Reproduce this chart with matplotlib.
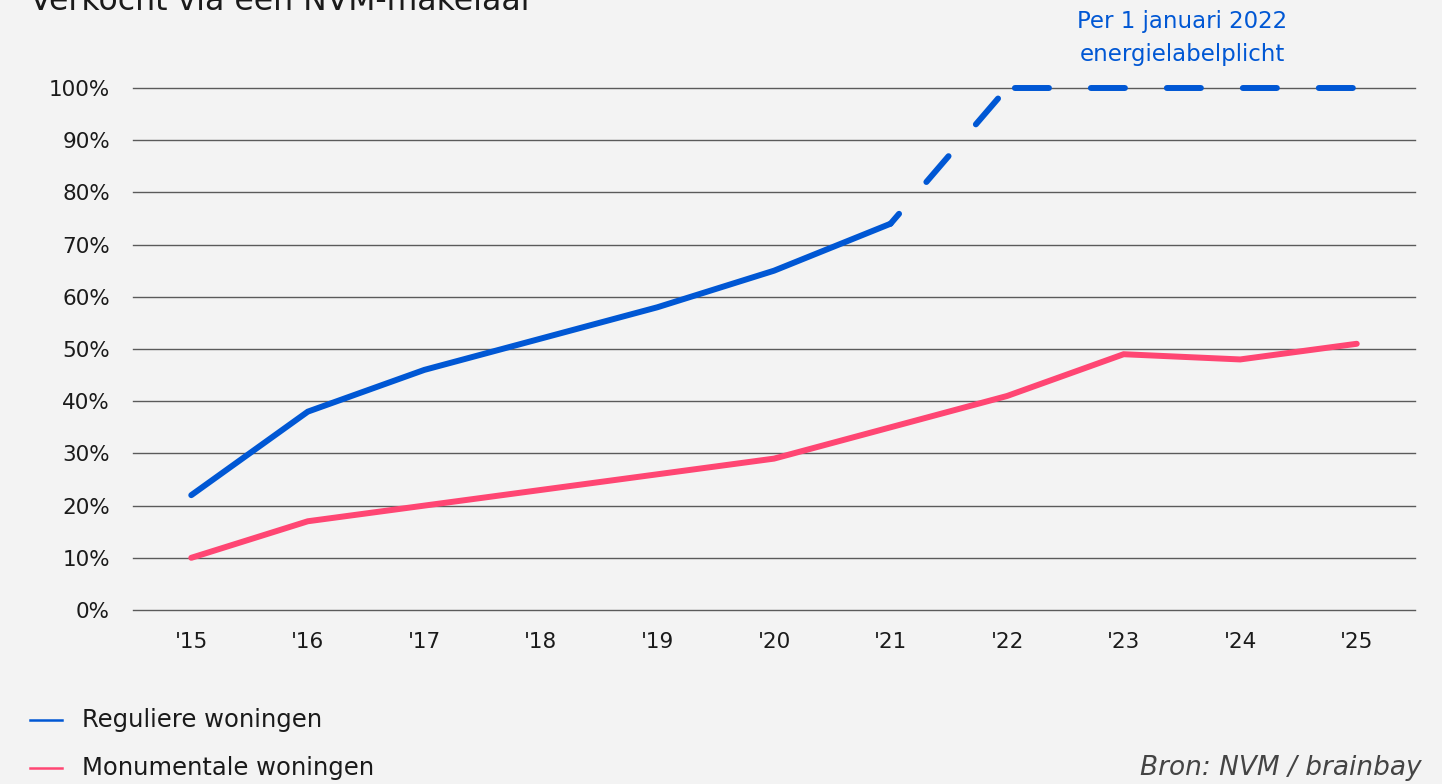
import matplotlib
matplotlib.use("Agg")
import matplotlib.pyplot as plt
from matplotlib.lines import Line2D

plt.rcParams['font.family'] = ['DejaVu Sans']
plt.rcParams['lines.scale_dashes'] = False

years = ["'15", "'16", "'17", "'18", "'19", "'20", "'21", "'22", "'23", "'24", "'25"]
reguliere = [22, 38, 46, 52, 58, 65, 74]
reguliere_proj_years = ["'21", "'22", "'23", "'24", "'25"]
reguliere_proj = [74, 100, 100, 100, 100]
monumentale = [10, 17, 20, 23, 26, 29, 35, 41, 49, 48, 51]
yticks = [0, 10, 20, 30, 40, 50, 60, 70, 80, 90, 100]

BLUE = '#0057d4'
PINK = '#ff4673'
BG = '#f3f3f3'
TXT = '#1a1a1a'

W, H = 1442, 784
fig = plt.figure(figsize=(W / 100, H / 100), dpi=100, facecolor=BG)
ax = fig.add_axes([133 / W, (H - 610) / H, (1415 - 133) / W, (610 - 88) / H])
ax.set_facecolor(BG)
ax.patch.set_visible(False)

xi = {y: i for i, y in enumerate(years)}

for v in yticks:
    ax.axhline(v, color='#5a5a5a', lw=1.0, clip_on=False, zorder=1)

ax.plot([xi[y] for y in years], monumentale, color=PINK, lw=4.3,
        solid_capstyle='round', solid_joinstyle='miter', clip_on=False, zorder=3)
ax.plot([xi[y] for y in years[:len(reguliere)]], reguliere, color=BLUE, lw=4.3,
        solid_capstyle='round', solid_joinstyle='miter', clip_on=False, zorder=3)
# projected part: rising segment and flat segment (same series)
px = [xi[y] for y in reguliere_proj_years]
ax.plot(px[:2], reguliere_proj[:2], color=BLUE, lw=4.3,
        linestyle=(15.1, (24.5, 30.2)), dash_capstyle='round', clip_on=False, zorder=3)
ax.plot(px[1:], reguliere_proj[1:], color=BLUE, lw=4.3,
        linestyle=(49.0, (24.5, 30.2)), dash_capstyle='round', clip_on=False, zorder=3)

ax.set_xlim(-0.5, 10.5)
ax.set_ylim(0, 100)
ax.set_xticks(range(len(years)))
ax.set_xticklabels(years)
ax.set_yticks(yticks)
ax.set_yticklabels([f'{v}%' for v in yticks])
ax.tick_params(axis='both', length=0, labelsize=15.5, labelcolor=TXT)
ax.tick_params(axis='y', pad=16.5)
ax.tick_params(axis='x', pad=16)
for s in ax.spines.values():
    s.set_visible(False)

fig.text(1182 / W, 1 - 38 / H, 'Per 1 januari 2022\nenergielabelplicht', color=BLUE,
         fontsize=16.5, ha='center', va='center', linespacing=1.56)

fig.text(30 / W, 1 - 10.5 / H, 'Verkocht via een NVM-makelaar', color=TXT,
         fontsize=22.7, ha='left', va='baseline')

# legend
for yy, lab, col in [(720, 'Reguliere woningen', BLUE), (768, 'Monumentale woningen', PINK)]:
    fig.add_artist(Line2D([30 / W, 62 / W], [1 - yy / H, 1 - yy / H], color=col, lw=1.8,
                          transform=fig.transFigure))
    fig.text(82 / W, 1 - yy / H, lab, color=TXT, fontsize=17.5, ha='left', va='center')

fig.text(1422 / W, 1 - 768 / H, 'Bron: NVM / brainbay', color='#444444', fontsize=19,
         style='italic', ha='right', va='center')

fig.savefig('out.png', dpi=100, facecolor=BG)
